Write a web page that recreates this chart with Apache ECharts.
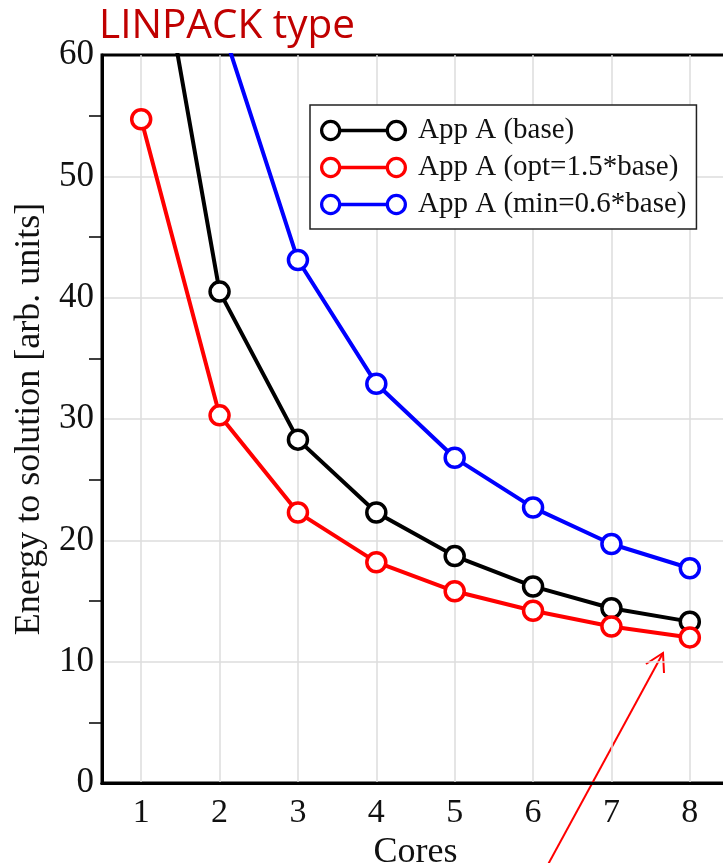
<!DOCTYPE html>
<html>
<head>
<meta charset="utf-8">
<script src="https://cdn.jsdelivr.net/npm/echarts@6/dist/echarts.min.js"></script>
<style>
html,body{margin:0;padding:0;background:#fff;}
#chart{width:723px;height:863px;}
</style>
</head>
<body>
<div id="chart"></div>
<script>
// ---- data ----
const cores = [1, 2, 3, 4, 5, 6, 7, 8];
const baseEnergy = [77.0, 40.5, 28.3, 22.3, 18.7, 16.2, 14.4, 13.3];
const optEnergy  = [54.7, 30.3, 22.3, 18.2, 15.8, 14.2, 12.9, 12.0];
const minEnergy  = [115.0, 63.0, 43.1, 32.9, 26.8, 22.7, 19.7, 17.7];
const seriesNames = ['App A (base)', 'App A (opt=1.5*base)', 'App A (min=0.6*base)'];
const seriesColors = ['#000000', '#ff0000', '#0000ff'];
const yTicks = [0, 10, 20, 30, 40, 50, 60];

const serif = '"Liberation Serif", "DejaVu Serif", serif';
// legend icon: two open rings joined by a line (ring = outer cw, inner ccw)
const ringIcon = 'path://M0.5 12A11.5 11.5 0 1 1 23.5 12A11.5 11.5 0 1 1 0.5 12Z' +
  'M4 12A8 8 0 1 0 20 12A8 8 0 1 0 4 12Z' +
  'M71.5 12A11.5 11.5 0 1 1 94.5 12A11.5 11.5 0 1 1 71.5 12Z' +
  'M75 12A8 8 0 1 0 91 12A8 8 0 1 0 75 12Z' +
  'M23 10L72 10L72 14L23 14Z';

const pairs = arr => cores.map((c, i) => [c, arr[i]]);
const allVals = [baseEnergy, optEnergy, minEnergy];

const chart = echarts.init(document.getElementById('chart'), null, {renderer: 'canvas'});
chart.setOption({
  animation: false,
  backgroundColor: '#fff',
  title: {
    text: 'LINPACK type',
    left: 94, top: 1,
    textStyle: {color: '#c00000', fontFamily: '"Open Sans", "Noto Sans", sans-serif', fontWeight: 'normal', fontSize: 40.5}
  },
  grid: {
    left: 102, right: -6, top: 55, bottom: 80,
    outerBoundsMode: 'none',
    containLabel: false,
    show: true, borderColor: '#000', borderWidth: 3, backgroundColor: 'transparent'
  },
  legend: {
    orient: 'vertical',
    left: 310, top: 105,
    padding: [11, 10, 10, 10],
    itemGap: 8,
    itemWidth: 87, itemHeight: 22,
    icon: ringIcon,
    backgroundColor: '#fff',
    borderColor: '#222', borderWidth: 1.5, borderRadius: 0,
    textStyle: {fontFamily: serif, fontSize: 29, color: '#111', padding: [0, 0, 0, 6]},
    data: seriesNames.map((n, i) => ({name: n, itemStyle: {color: seriesColors[i], borderWidth: 0}}))
  },
  xAxis: [{
    type: 'value', min: 0.5, max: 8.5, splitNumber: 8,
    name: 'Cores', nameLocation: 'middle', nameGap: 48,
    nameTextStyle: {fontFamily: serif, fontSize: 36, color: '#111'},
    axisLine: {show: true, lineStyle: {color: '#000', width: 3}},
    axisTick: {show: false},
    axisLabel: {
      fontFamily: serif, fontSize: 34, color: '#111', margin: 13,
      formatter: v => (cores.indexOf(v) >= 0 ? String(v) : '')
    },
    splitLine: {show: true, showMinLine: false, showMaxLine: false, lineStyle: {color: '#dddddd', width: 1.5}}
  }, {
    type: 'value', min: 0.5, max: 8.5, position: 'top',
    axisLine: {show: true, lineStyle: {color: '#000', width: 3}},
    axisTick: {show: false},
    axisLabel: {show: false},
    splitLine: {show: false}
  }],
  yAxis: [{
    type: 'value', min: 0, max: 60, interval: 10,
    name: 'Energy to solution [arb. units]', nameLocation: 'middle', nameGap: 54,
    nameTextStyle: {fontFamily: serif, fontSize: 36, color: '#111'},
    axisLine: {show: true, lineStyle: {color: '#000', width: 3}},
    axisTick: {show: false},
    minorTick: {show: true, splitNumber: 2, length: 13, lineStyle: {color: '#000', width: 1.5}},
    axisLabel: {fontFamily: serif, fontSize: 35, color: '#111', margin: 8,
      formatter: v => (yTicks.indexOf(v) >= 0 ? String(v) : '')},
    splitLine: {show: true, showMinLine: false, showMaxLine: false, lineStyle: {color: '#dddddd', width: 1.5}}
  }, {
    type: 'value', min: 0, max: 60, interval: 10, position: 'right',
    axisLine: {show: true, lineStyle: {color: '#000', width: 3}},
    axisTick: {show: false},
    minorTick: {show: true, splitNumber: 2, length: 13, lineStyle: {color: '#000', width: 1.5}},
    axisLabel: {show: false},
    splitLine: {show: false}
  }],
  series: seriesNames.map((n, i) => ({
    name: n,
    type: 'line',
    data: pairs(allVals[i]),
    color: seriesColors[i],
    symbol: 'circle',
    symbolSize: 19,
    lineStyle: {color: seriesColors[i], width: 4},
    itemStyle: {color: '#ffffff', borderColor: seriesColors[i], borderWidth: 3.5},
    clip: true,
    z: 3 + i
  })),
  graphic: [{
    type: 'group', z: 100,
    children: [
      {type: 'line', shape: {x1: 545, y1: 870, x2: 663, y2: 653}, style: {stroke: '#ff0000', lineWidth: 2}},
      {type: 'polyline', shape: {points: [[646, 664], [663, 653], [664, 673]]}, style: {stroke: '#ff0000', lineWidth: 2, fill: null}}
    ]
  }]
});
</script>
</body>
</html>
